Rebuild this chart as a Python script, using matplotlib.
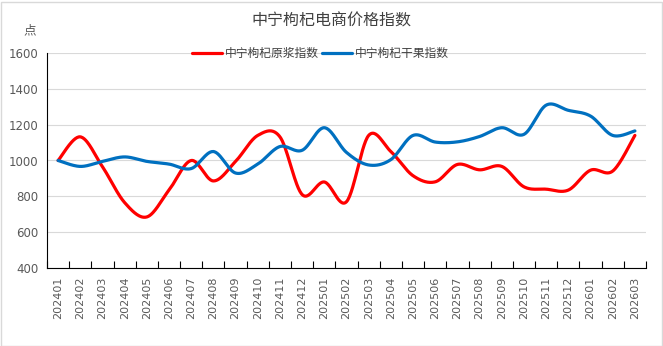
import numpy as np
import matplotlib.pyplot as plt
from matplotlib.patches import Rectangle

# Monthly categories and the two index series
months = ['202401', '202402', '202403', '202404', '202405', '202406', '202407',
          '202408', '202409', '202410', '202411', '202412', '202501', '202502',
          '202503', '202504', '202505', '202506', '202507', '202508', '202509',
          '202510', '202511', '202512', '202601', '202602', '202603']
raw_index = [1000, 1132, 965, 765, 685, 835, 1000, 886, 995, 1140, 1132, 810, 880, 770,
             1140, 1050, 915, 881, 978, 948, 967, 853, 840, 835, 946, 941, 1140]
dried_index = [1000, 967, 995, 1020, 995, 980, 955, 1050, 930, 980, 1078, 1057, 1183, 1045,
               975, 1005, 1140, 1103, 1104, 1134, 1183, 1146, 1309, 1280, 1248, 1140, 1165]
yticks = [400, 600, 800, 1000, 1200, 1400, 1600]

CJK = 'Noto Sans CJK SC'
GRAY = '#595959'


def smooth(xs, ys, n=30):
    # Excel-like smoothed line: cubic Bezier through every point
    xs = np.asarray(xs, float)
    ys = np.asarray(ys, float)
    m = len(xs)
    px, py = [], []
    t = np.linspace(0, 1, n)
    for i in range(m - 1):
        a = max(i - 1, 0)
        b = min(i + 2, m - 1)
        c1x = xs[i] + (xs[i + 1] - xs[a]) / 6
        c1y = ys[i] + (ys[i + 1] - ys[a]) / 6
        c2x = xs[i + 1] - (xs[b] - xs[i]) / 6
        c2y = ys[i + 1] - (ys[b] - ys[i]) / 6
        bx = (1-t)**3*xs[i] + 3*(1-t)**2*t*c1x + 3*(1-t)*t**2*c2x + t**3*xs[i+1]
        by = (1-t)**3*ys[i] + 3*(1-t)**2*t*c1y + 3*(1-t)*t**2*c2y + t**3*ys[i+1]
        px.extend(bx[:-1] if i < m - 2 else bx)
        py.extend(by[:-1] if i < m - 2 else by)
    return np.array(px), np.array(py)


fig = plt.figure(figsize=(6.63, 3.46), dpi=100)
ax = fig.add_axes([47/663, 1-268/346, (646-47)/663, (268-53)/346])

x = np.arange(len(months))
sx, sy = smooth(x, raw_index)
ax.plot(sx, sy, color='#FF0000', lw=2.3, label='中宁枸杞原浆指数', solid_capstyle='round')
sx, sy = smooth(x, dried_index)
ax.plot(sx, sy, color='#0070C0', lw=2.3, label='中宁枸杞干果指数', solid_capstyle='round')

ax.set_xlim(-0.5, len(months) - 0.5)
ax.set_ylim(400, 1600)
ax.set_yticks(yticks)
ax.set_yticklabels([str(v) for v in yticks], color=GRAY, fontsize=8.5)
ax.tick_params(axis='y', length=0, pad=6)
ax.grid(axis='y', color='#D9D9D9', lw=0.8)
ax.set_axisbelow(True)

ax.set_xticks(x)
ax.set_xticklabels(months, rotation=90, color=GRAY, fontsize=8)
ax.set_xticks(np.arange(len(months) + 1) - 0.5, minor=True)
ax.tick_params(axis='x', which='major', length=0, pad=6)
ax.tick_params(axis='x', which='minor', direction='in', length=5, width=0.8, color='black')

for side in ['top', 'right']:
    ax.spines[side].set_visible(False)
ax.spines['left'].set_color('black')
ax.spines['bottom'].set_color('black')
ax.spines['left'].set_linewidth(0.8)
ax.spines['bottom'].set_linewidth(0.8)

fig.text(331.7/663, 1-20.7/346, '中宁枸杞电商价格指数', family=CJK, fontsize=11.5,
         color='#404040', ha='center', va='center')
fig.text(30/663, 1-30.7/346, '点', family=CJK, fontsize=9, color=GRAY, ha='center', va='center')

leg = fig.legend(loc='center', bbox_to_anchor=(320.5/663, 1-53.3/346), ncol=2, frameon=False,
                 prop={'family': CJK, 'size': 8.5}, handlelength=2.5, handletextpad=0.25,
                 columnspacing=0.3, borderpad=0)
for txt in leg.get_texts():
    txt.set_color('#404040')

fig.patches.append(Rectangle((0.5/663, 0.5/346), 1-2/663, 1-2/346, transform=fig.transFigure,
                             fill=False, edgecolor='#D9D9D9', lw=1))

fig.savefig('out.png', dpi=100)
